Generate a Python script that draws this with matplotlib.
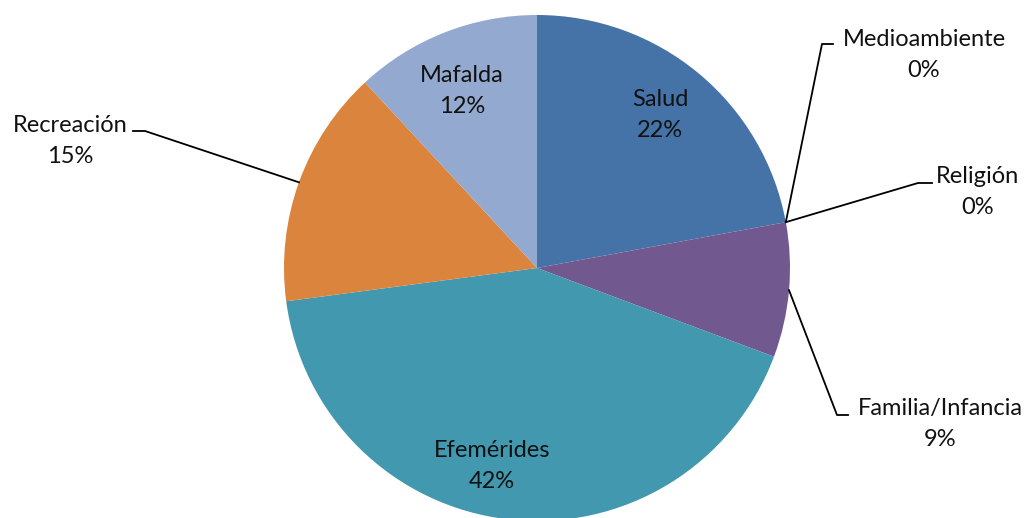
import matplotlib
matplotlib.use("Agg")
import matplotlib.pyplot as plt
import numpy as np

# --- datos ---
categorias = ["Salud", "Medioambiente", "Religión", "Familia/Infancia",
              "Efemérides", "Recreación", "Mafalda"]
valores = [22.1, 0.0, 0.0, 8.6, 42.2, 15.2, 11.9]
colores = ["#4572A7", "#AA4643", "#89A54E", "#71588F",
           "#4198AF", "#DB843D", "#93A9CF"]

# --- disposición (píxeles de la imagen, origen arriba a la izquierda) ---
W, H = 1029, 518
centro = (537, 268)
radio = 253
# centro del texto de cada etiqueta
pos_texto = {
    "Salud": (660, 115),
    "Medioambiente": (924, 55),
    "Religión": (978, 192),
    "Familia/Infancia": (940, 424),
    "Efemérides": (492, 466),
    "Recreación": (70, 141),
    "Mafalda": (462, 91),
}
# codo de la línea guía (punto de quiebre, fin del tramo horizontal)
codos = {
    "Medioambiente": ((822, 44), (833, 44)),
    "Religión": ((918, 183), (932, 183)),
    "Familia/Infancia": ((837, 415), (848, 415)),
    "Recreación": ((145, 131), (133, 131)),
}

plt.rcParams['font.family'] = ['Lato', 'DejaVu Sans']

fig = plt.figure(figsize=(W / 100, H / 100), dpi=100)
ax = fig.add_axes([0, 0, 1, 1])

cx, cy = centro[0], H - centro[1]
wedges, _ = ax.pie(valores, colors=colores, startangle=90, counterclock=False,
                   center=(cx, cy), radius=radio, frame=True,
                   wedgeprops=dict(linewidth=0))
ax.set_xlim(0, W)
ax.set_ylim(0, H)
ax.set_aspect('equal')
ax.axis('off')

total = sum(valores)
for w, cat, v in zip(wedges, categorias, valores):
    pct = f"{v / total * 100:.0f}%"
    tx, ty = pos_texto[cat]
    ax.text(tx, H - ty, f"{cat}\n{pct}", ha='center', va='center',
            fontsize=17, linespacing=1.55, color='#111111')
    if cat in codos:
        # punto de arranque en el borde del sector
        ang = np.deg2rad((w.theta1 + w.theta2) / 2)
        x0 = cx + radio * np.cos(ang)
        y0 = cy + radio * np.sin(ang)
        (x1, y1), (x2, y2) = codos[cat]
        ax.plot([x0, x1, x2], [y0, H - y1, H - y2], color='black', linewidth=1.3)

fig.savefig("out.png", dpi=100)
